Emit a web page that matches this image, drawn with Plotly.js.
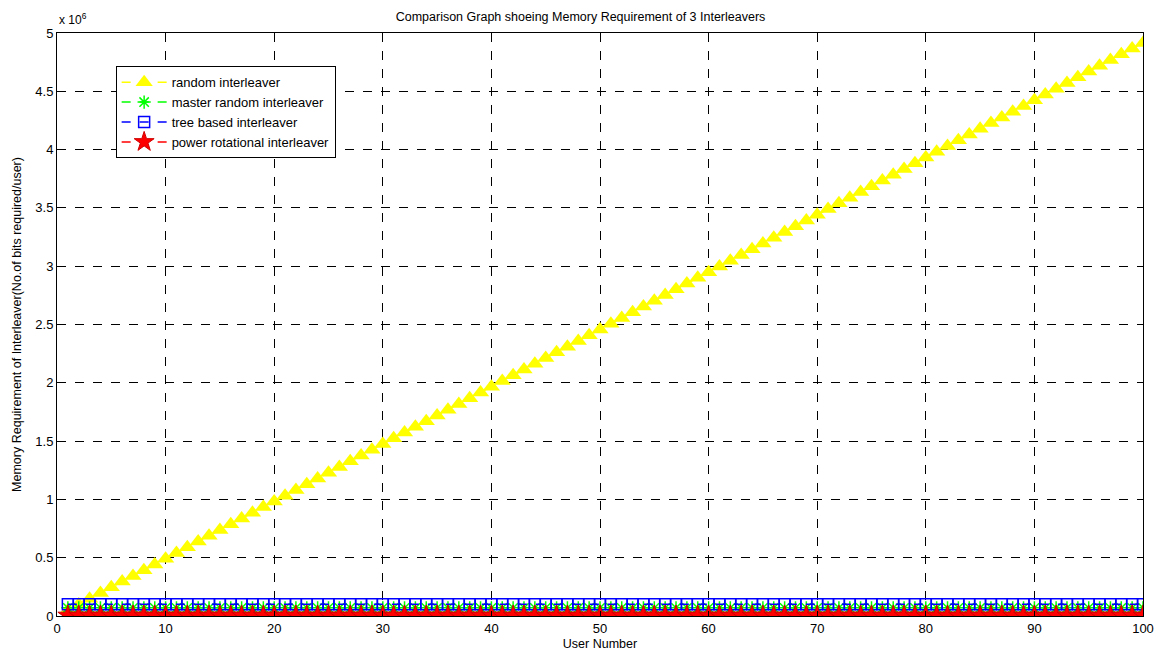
<!DOCTYPE html>
<html>
<head>
<meta charset="utf-8">
<script src="https://cdn.plot.ly/plotly-3.0.1.min.js"></script>
<style>html,body{margin:0;padding:0;background:#fff;}#chart{width:1161px;height:657px;}</style>
</head>
<body>
<div id="chart"></div>
<script>
// User numbers 1..100
const users = [];
for (let i = 1; i <= 100; i++) users.push(i);

// Values (bits per user)
const randomPerUser = 49152;      // slope of the random interleaver line
const randomInterleaver = users.map(u => u * randomPerUser);
const masterRandomValue = 70000;
const treeBasedValue = 100000;
const powerRotationalValue = 5000;
const masterRandomInterleaver = users.map(() => masterRandomValue);
const treeBasedInterleaver = users.map(() => treeBasedValue);
const powerRotationalInterleaver = users.map(() => powerRotationalValue);

const yTickVals = [0, 0.5e6, 1e6, 1.5e6, 2e6, 2.5e6, 3e6, 3.5e6, 4e6, 4.5e6, 5e6];
const yTickText = ['0', '0.5', '1', '1.5', '2', '2.5', '3', '3.5', '4', '4.5', '5'];
const xTickVals = [0, 10, 20, 30, 40, 50, 60, 70, 80, 90, 100];

const font = 'Arial, "Liberation Sans", sans-serif';

const traces = [
  {x: users, y: randomInterleaver, name: 'random interleaver', mode: 'lines+markers',
   line: {color: '#ffff00', dash: 'dash', width: 1.5},
   marker: {symbol: 'triangle-up', size: 15, color: '#ffff00'}},
  {x: users, y: masterRandomInterleaver, name: 'master random interleaver', mode: 'lines+markers',
   line: {color: '#00ff00', dash: 'dash', width: 1.5},
   marker: {symbol: 'asterisk-open', size: 11, color: '#00ff00', line: {color: '#00ff00', width: 1.5}}},
  {x: users, y: treeBasedInterleaver, name: 'tree based interleaver', mode: 'lines+markers',
   line: {color: '#0000ff', dash: 'dash', width: 1.5},
   marker: {symbol: 'square-open', size: 11, color: '#0000ff', line: {color: '#0000ff', width: 1.5}}},
  {x: users, y: powerRotationalInterleaver, name: 'power rotational interleaver', mode: 'lines+markers',
   line: {color: '#ff0000', dash: 'dash', width: 1.5},
   marker: {symbol: 'star', size: 15, color: '#ff0000', line: {color: '#d00000', width: 1}}}
];

const layout = {
  width: 1161, height: 657,
  margin: {l: 57, r: 18, t: 33, b: 41},
  paper_bgcolor: '#ffffff', plot_bgcolor: '#ffffff',
  font: {family: font, size: 13, color: '#000'},
  title: {text: 'Comparison Graph shoeing Memory Requirement of 3 Interleavers',
          font: {family: font, size: 12.5, color: '#000'}, x: 0.5, xanchor: 'center', y: 0.975, yanchor: 'middle'},
  showlegend: true,
  legend: {x: 0.054, y: 0.943, xanchor: 'left', yanchor: 'top', bgcolor: '#fff',
           bordercolor: '#000', borderwidth: 1, font: {family: font, size: 13, color: '#000'},
           itemwidth: 45, tracegroupgap: 0},
  xaxis: {range: [0, 100], tickvals: xTickVals, ticks: 'inside', ticklen: 5, tickcolor: '#000',
          showline: true, linecolor: '#000', linewidth: 1, mirror: 'ticks',
          showgrid: true, gridcolor: '#000', gridwidth: 1, griddash: 'dash', zeroline: false,
          tickfont: {family: font, size: 13, color: '#000'},
          title: {text: 'User Number', font: {family: font, size: 12.5, color: '#000'}, standoff: 4}},
  yaxis: {range: [0, 5e6], tickvals: yTickVals, ticktext: yTickText, ticks: 'inside', ticklen: 5, tickcolor: '#000',
          showline: true, linecolor: '#000', linewidth: 1, mirror: 'ticks',
          showgrid: true, gridcolor: '#000', gridwidth: 1, griddash: 'dash', zeroline: false,
          tickfont: {family: font, size: 13, color: '#000'},
          title: {text: 'Memory Requirement of Interleaver(No.of bits required/user)',
                  font: {family: font, size: 12.5, color: '#000'}, standoff: 10}},
  annotations: [{text: 'x 10<sup>6</sup>', xref: 'paper', yref: 'paper', x: 0, y: 1, xanchor: 'left', yanchor: 'bottom',
                 yshift: 4, showarrow: false, font: {family: font, size: 12, color: '#000'}}]
};

Plotly.newPlot('chart', traces, layout, {displayModeBar: false, staticPlot: true});
</script>
</body>
</html>
